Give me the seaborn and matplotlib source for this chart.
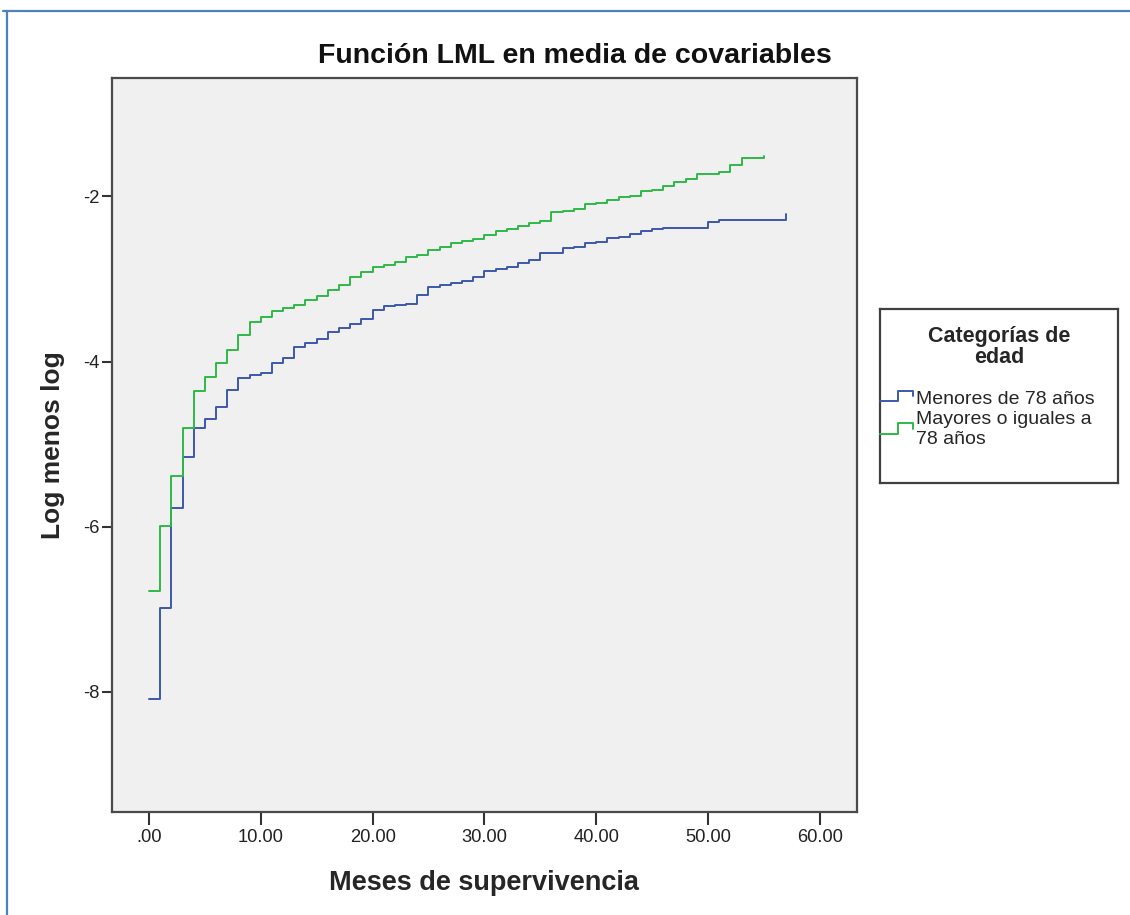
import numpy as np
import pandas as pd
import seaborn as sns
import matplotlib.pyplot as plt
from matplotlib.lines import Line2D
from matplotlib.legend_handler import HandlerBase

# Datos (función log menos log por mes)
meses_menores = list(range(0, 58))
lml_menores = [
    -8.09, -6.98, -5.77, -5.15, -4.81, -4.70, -4.55, -4.34, -4.20, -4.16,
    -4.14, -4.02, -3.96, -3.82, -3.78, -3.73, -3.64, -3.59, -3.55, -3.48,
    -3.38, -3.33, -3.31, -3.30, -3.19, -3.10, -3.07, -3.05, -3.02, -2.97,
    -2.90, -2.88, -2.86, -2.81, -2.77, -2.69, -2.69, -2.63, -2.61, -2.57,
    -2.55, -2.50, -2.49, -2.46, -2.42, -2.40, -2.38, -2.38, -2.38, -2.38,
    -2.31, -2.28, -2.28, -2.28, -2.28, -2.28, -2.28, -2.21,
]
meses_mayores = list(range(0, 56))
lml_mayores = [
    -6.78, -5.99, -5.38, -4.80, -4.36, -4.19, -4.02, -3.86, -3.68, -3.52,
    -3.46, -3.39, -3.35, -3.31, -3.26, -3.20, -3.13, -3.07, -2.98, -2.91,
    -2.86, -2.83, -2.79, -2.73, -2.71, -2.65, -2.61, -2.56, -2.54, -2.51,
    -2.47, -2.42, -2.40, -2.36, -2.32, -2.30, -2.19, -2.18, -2.15, -2.09,
    -2.08, -2.04, -2.01, -1.99, -1.94, -1.92, -1.87, -1.83, -1.79, -1.73,
    -1.73, -1.70, -1.62, -1.53, -1.53, -1.51,
]
grupos = ["Menores de 78 años", "Mayores o iguales a\n78 años"]
colores = ["#3E58AC", "#2EB848"]

xticks = [0, 10, 20, 30, 40, 50, 60]
xtick_labels = [".00", "10.00", "20.00", "30.00", "40.00", "50.00", "60.00"]
yticks = [-8, -6, -4, -2]
ytick_labels = ["-8", "-6", "-4", "-2"]

df = pd.concat([
    pd.DataFrame({"meses": meses_menores, "lml": lml_menores, "grupo": grupos[0]}),
    pd.DataFrame({"meses": meses_mayores, "lml": lml_mayores, "grupo": grupos[1]}),
], ignore_index=True)


class ManejadorEscalon(HandlerBase):
    # icono de leyenda con forma de escalón, como en SPSS
    def create_artists(self, legend, orig_handle, xdescent, ydescent,
                       width, height, fontsize, trans):
        x0, y0 = -xdescent, -ydescent
        xs = [x0, x0 + 0.55 * width, x0 + 0.55 * width, x0 + width, x0 + width]
        ys = [y0 + 0.15 * height, y0 + 0.15 * height, y0 + 0.95 * height,
              y0 + 0.95 * height, y0 + 0.55 * height]
        linea = Line2D(xs, ys, color=orig_handle.get_color(),
                       linewidth=orig_handle.get_linewidth())
        linea.set_transform(trans)
        return [linea]


sns.set_style("white")
plt.rcParams['font.family'] = ['Liberation Sans', 'DejaVu Sans']

fig = plt.figure(figsize=(11.3, 9.15), dpi=100)
fig.patch.set_facecolor('white')
ax = fig.add_axes([0.0988, 0.1129, 0.6593, 0.8015])
ax.set_facecolor('#F0F0F0')

sns.lineplot(data=df, x="meses", y="lml", hue="grupo", hue_order=grupos,
             palette=colores, drawstyle="steps-post", estimator=None,
             linewidth=1.4, legend=False, ax=ax)

ax.set_xlim(-3.34, 63.3)
ax.set_ylim(-9.45, -0.57)
ax.set_xticks(xticks)
ax.set_xticklabels(xtick_labels)
ax.set_yticks(yticks)
ax.set_yticklabels(ytick_labels)
ax.tick_params(axis='both', direction='out', width=1.5, bottom=True, left=True,
               color='#333333', labelsize=13.2, labelcolor='#222222')
ax.tick_params(axis='x', length=9, pad=3.5)
ax.tick_params(axis='y', length=7.5, pad=1)
for s in ax.spines.values():
    s.set_color('#4a4a4a')
    s.set_linewidth(1.6)

ax.set_xlabel("Meses de supervivencia", fontsize=19.5, fontweight='bold')
ax.set_ylabel("Log menos log", fontsize=19, fontweight='bold')
ax.xaxis.set_label_coords(0.5, -0.079)
ax.yaxis.set_label_coords(-0.063, 0.5)

fig.text(0.509, 0.939, "Función LML en media de covariables", fontsize=20.5,
         fontweight='bold', ha='center', va='center', color='#111111')

# caja de leyenda
ax_leg = fig.add_axes([0.7788, 0.4721, 0.2106, 0.1902])
ax_leg.set_xticks([])
ax_leg.set_yticks([])
ax_leg.set_facecolor('white')
for s in ax_leg.spines.values():
    s.set_color('#404040')
    s.set_linewidth(1.6)
ax_leg.text(0.5, 0.78, "Categorías de\nedad", fontsize=15.5, fontweight='bold',
            ha='center', va='center', linespacing=1.0, transform=ax_leg.transAxes)
handles = ax.get_lines()[:2]
ax_leg.legend(handles, grupos, loc='upper left', bbox_to_anchor=(0, 0.535),
              frameon=False, borderaxespad=0, borderpad=0, fontsize=14,
              handlelength=1.7, handletextpad=0.15, labelspacing=0.2,
              handler_map={Line2D: ManejadorEscalon()})

# borde azul del documento
fig.add_artist(Line2D([7 / 1130, 7 / 1130], [0, 1 - 10.5 / 915],
                      transform=fig.transFigure, color='#4F81BD', linewidth=1.6))
fig.add_artist(Line2D([3 / 1130, 1], [1 - 10.5 / 915, 1 - 10.5 / 915],
                      transform=fig.transFigure, color='#4F81BD', linewidth=1.6))

plt.savefig('out.png', dpi=100)
